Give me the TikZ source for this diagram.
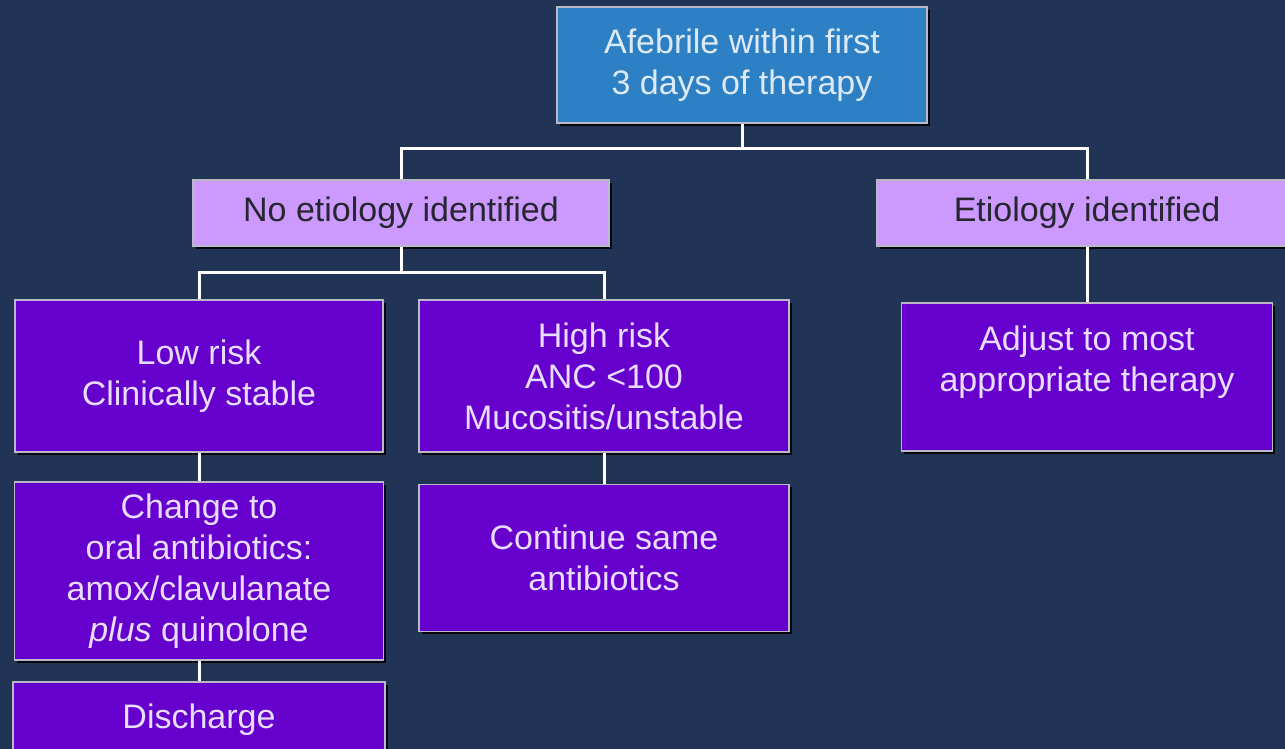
\documentclass[tikz,border=0pt]{standalone}
\usepackage{fontspec}
\setmainfont{Liberation Sans}
\usetikzlibrary{shadows}

\definecolor{bgnavy}{HTML}{213456}
\definecolor{topblue}{HTML}{2E80C4}
\definecolor{lightpurple}{HTML}{CC99FF}
\definecolor{darkpurple}{HTML}{6600CC}
\definecolor{boxedge}{HTML}{B9B9C8}
\definecolor{toptext}{HTML}{DDE9F5}
\definecolor{lighttext}{HTML}{E8DCFF}
\definecolor{darktext}{HTML}{262630}

\begin{document}
\begin{tikzpicture}[x=0.5pt,y=-0.5pt,
    box/.style={draw=boxedge,line width=0.8pt,inner sep=0pt,align=center,
        font=\fontsize{17}{20.5}\selectfont,
        drop shadow={shadow xshift=1.3pt,shadow yshift=-1.3pt,fill=black,opacity=0.85}},
    topbox/.style={box,fill=topblue,text=toptext},
    lightbox/.style={box,fill=lightpurple,text=darktext},
    darkbox/.style={box,fill=darkpurple,text=lighttext},
    boxtext/.style={align=center,inner sep=0pt,text=lighttext,
        font=\fontsize{17}{20.5}\selectfont},
    link/.style={draw=white,line width=1.5pt}]

% Background
\useasboundingbox (0,0) rectangle (1285,749);
\fill[bgnavy] (0,0) rectangle (1285,749);
\clip (0,0) rectangle (1285,749);

% Top box
\node[topbox,minimum width=185pt,minimum height=58pt] (afeb) at (742,65)
    {Afebrile within first\\3 days of therapy};

% Second row
\node[lightbox,minimum width=208pt,minimum height=33pt] (noetio) at (401,213)
    {No etiology identified};
\node[lightbox,minimum width=210pt,minimum height=33pt] (etio) at (1087,213)
    {Etiology identified};

% Third row
\node[darkbox,minimum width=184pt,minimum height=76pt] (lowrisk) at (199,376)
    {Low risk\\Clinically stable};
\node[darkbox,minimum width=185pt,minimum height=76pt] (highrisk) at (604,376)
    {High risk\\ANC <100\\Mucositis/unstable};
\node[darkbox,minimum width=185.5pt,minimum height=74pt] (adjust) at (1087,377) {};
\node[boxtext] (adjusttxt) at (1087,362) {Adjust to most\\appropriate therapy};

% Fourth row
\node[darkbox,minimum width=184.5pt,minimum height=89pt] (change) at (199,571)
    {Change to\\oral antibiotics:\\amox/clavulanate\\\textit{plus} quinolone};
\node[darkbox,minimum width=185pt,minimum height=73.5pt] (contin) at (604,558)
    {Continue same\\antibiotics};

% Last box
\node[darkbox,minimum width=186pt,minimum height=38pt] (disch) at (199,720)
    {Discharge};

% Connectors
\draw[link] (afeb.south) -- ++(0,25) -| (noetio.north);
\draw[link] (afeb.south) -- ++(0,25) -| (etio.north);
\draw[link] (noetio.south) -- ++(0,26) -| (lowrisk.north);
\draw[link] (noetio.south) -- ++(0,26) -| (highrisk.north);
\draw[link] (etio.south) -- (adjust.north);
\draw[link] (lowrisk.south) -- (change.north);
\draw[link] (change.south) -- (disch.north);
\draw[link] (highrisk.south) -- (contin.north);

\end{tikzpicture}
\end{document}
